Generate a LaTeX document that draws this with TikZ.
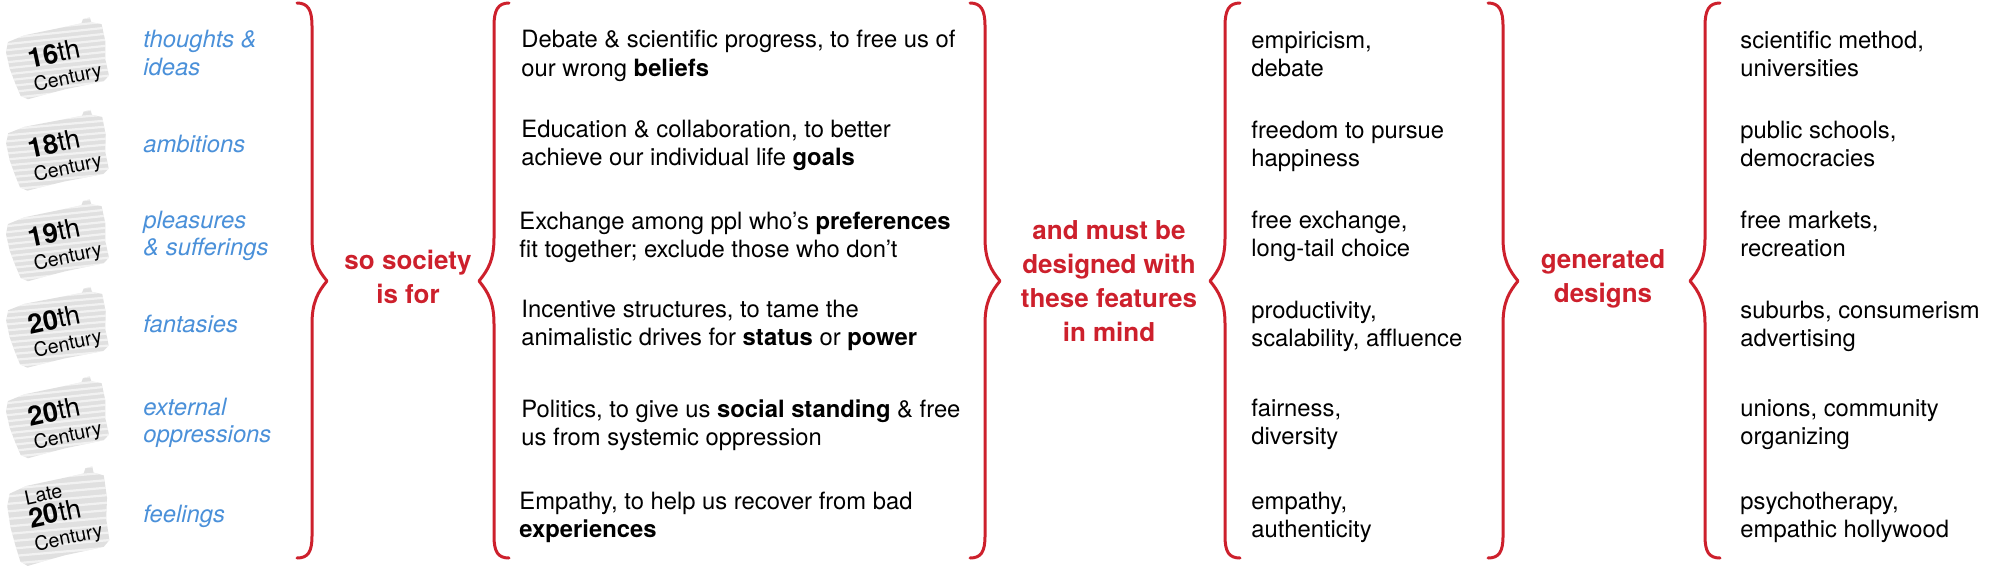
\documentclass[tikz,border=0pt]{standalone}
\usepackage{fontspec}
\setmainfont{TeX Gyre Heros}
\definecolor{bred}{RGB}{205,32,44}
\definecolor{bblue}{RGB}{74,144,217}
\definecolor{bgray}{RGB}{224,224,224}
\newcommand\leftlines[1]{\vtop{\halign{##\hfil\cr#1\crcr}}}
\newcommand\centerlines[1]{\vtop{\halign{\hfil##\hfil\cr#1\crcr}}}
\newcommand\cent{\fontsize{9.8}{11}\selectfont Century}
\newcommand\badgebg[4][1]{%
  \begin{scope}[shift={(#2,#3)}, yscale=#1, rotate=#4]
    \clip (-47,-22) -- (-30,-27) -- (-10,-29) -- (10,-31) -- (28,-33) -- (30,-37) -- (37,-38) -- (38,-33) -- (48,-30) -- (50,-12) -- (48,5) -- (50,22) -- (44,27) -- (25,29) -- (5,31) -- (-15,34) -- (-33,37) -- (-40,33) -- (-44,20) -- (-48,5) -- (-50,-12) -- cycle;
    \fill[bgray] (-70,-60) rectangle (70,60);
    \foreach \k in {-56,-50,...,56} {\draw[white, opacity=0.6, line width=1.1pt] (-70,\k) -- (70,\k);}
  \end{scope}}
\newcommand\curlybrace[2]{% #1 = x of vertical stroke, #2 = +1 tip right, -1 tip left
  \draw[bracestyle] ({#1-15*(#2)},3) .. controls ({#1-4*(#2)},3) and (#1,10) .. (#1,26)
    -- (#1,238) .. controls (#1,260) and ({#1+6*(#2)},270) .. ({#1+15*(#2)},281)
    .. controls ({#1+6*(#2)},292) and (#1,302) .. (#1,324)
    -- (#1,536) .. controls (#1,552) and ({#1-4*(#2)},558) .. ({#1-15*(#2)},558);}
\begin{document}
\begin{tikzpicture}[x=0.5pt, y=-0.5pt,
  bracestyle/.style={draw=bred, line width=1.5pt, line cap=round, line join=round},
  txt/.style={anchor=base west, inner sep=0pt, font=\fontsize{11.9}{14.3}\selectfont},
  txtb/.style={anchor=base west, inner sep=0pt, font=\fontsize{11.9}{14}\selectfont},
  blu/.style={anchor=base west, inner sep=0pt, text=bblue, font=\fontsize{11.9}{13.8}\selectfont\itshape},
  redt/.style={anchor=base, inner sep=0pt, text=bred, font=\fontsize{13}{17}\selectfont\bfseries},
  badge/.style={inner sep=0pt, rotate=12, font=\fontsize{13.5}{11.8}\selectfont}]
\useasboundingbox (0,0) rectangle (2000,567);

% badges
\badgebg{57}{59}{6}
\badgebg{57}{151}{5}
\badgebg{57}{241}{6}
\badgebg{57}{328}{5}
\badgebg{57}{418}{6}
\badgebg[1.25]{58}{517}{4}
\node[badge] (b1) at (65,65) {\leftlines{\textbf{16}th\cr \cent}};
\node[badge] (b2) at (65,155) {\leftlines{\textbf{18}th\cr \cent}};
\node[badge] (b3) at (65,244) {\leftlines{\textbf{19}th\cr \cent}};
\node[badge] (b4) at (65,331) {\leftlines{\textbf{20}th\cr \cent}};
\node[badge] (b5) at (65,423) {\leftlines{\textbf{20}th\cr \cent}};
\node[badge] (b6) at (64,516) {\leftlines{\fontsize{9.8}{11}\selectfont Late\cr \textbf{20}th\cr \cent}};

% blue labels
\node[blu] (l1) at (143,48) {\leftlines{thoughts \&\cr ideas}};
\node[blu] (l2) at (143,152) {\leftlines{ambitions}};
\node[blu] (l3) at (143,228) {\leftlines{pleasures\cr \& sufferings}};
\node[blu] (l4) at (143,332) {\leftlines{fantasies}};
\node[blu] (l5) at (143,415) {\leftlines{external\cr oppressions}};
\node[blu] (l6) at (143,522) {\leftlines{feelings}};

% braces
\curlybrace{312}{1}
\curlybrace{494}{-1}
\curlybrace{985}{1}
\curlybrace{1225}{-1}
\curlybrace{1503}{1}
\curlybrace{1705}{-1}

% red labels
\node[redt] (r1) at (408,269) {\centerlines{so society\cr is for}};
\node[redt] (r2) at (1109,239) {\centerlines{and must be\cr designed with\cr these features\cr in mind}};
\node[redt] (r3) at (1603,268) {\centerlines{generated\cr designs}};

% column 2
\node[txt] (c1) at (521,48) {\leftlines{Debate \& scientific progress, to free us of\cr our wrong \textbf{beliefs}}};
\node[txt] (c2) at (521,137) {\leftlines{Education \& collaboration, to better\cr achieve our individual life \textbf{goals}}};
\node[txt] (c3) at (519,229) {\leftlines{Exchange among ppl who’s \textbf{preferences}\cr fit together; exclude those who don’t}};
\node[txt] (c4) at (521,317) {\leftlines{Incentive structures, to tame the\cr animalistic drives for \textbf{status} or \textbf{power}}};
\node[txt] (c5) at (521,417) {\leftlines{Politics, to give us \textbf{social standing} \& free\cr us from systemic oppression}};
\node[txt] (c6) at (519,509) {\leftlines{Empathy, to help us recover from bad\cr \textbf{experiences}}};

% column 3
\node[txtb] (f1) at (1251,49) {\leftlines{empiricism,\cr debate}};
\node[txtb] (f2) at (1251,138) {\leftlines{freedom to pursue\cr happiness}};
\node[txtb] (f3) at (1251,228) {\leftlines{free exchange,\cr long-tail choice}};
\node[txtb] (f4) at (1251,318) {\leftlines{productivity,\cr scalability, affluence}};
\node[txtb] (f5) at (1251,416) {\leftlines{fairness,\cr diversity}};
\node[txtb] (f6) at (1251,509) {\leftlines{empathy,\cr authenticity}};

% column 4
\node[txtb] (d1) at (1740,49) {\leftlines{scientific method,\cr universities}};
\node[txtb] (d2) at (1740,138) {\leftlines{public schools,\cr democracies}};
\node[txtb] (d3) at (1740,228) {\leftlines{free markets,\cr recreation}};
\node[txtb] (d4) at (1740,318) {\leftlines{suburbs, consumerism\cr advertising}};
\node[txtb] (d5) at (1740,416) {\leftlines{unions, community\cr organizing}};
\node[txtb] (d6) at (1740,509) {\leftlines{psychotherapy,\cr empathic hollywood}};
\end{tikzpicture}
\end{document}
